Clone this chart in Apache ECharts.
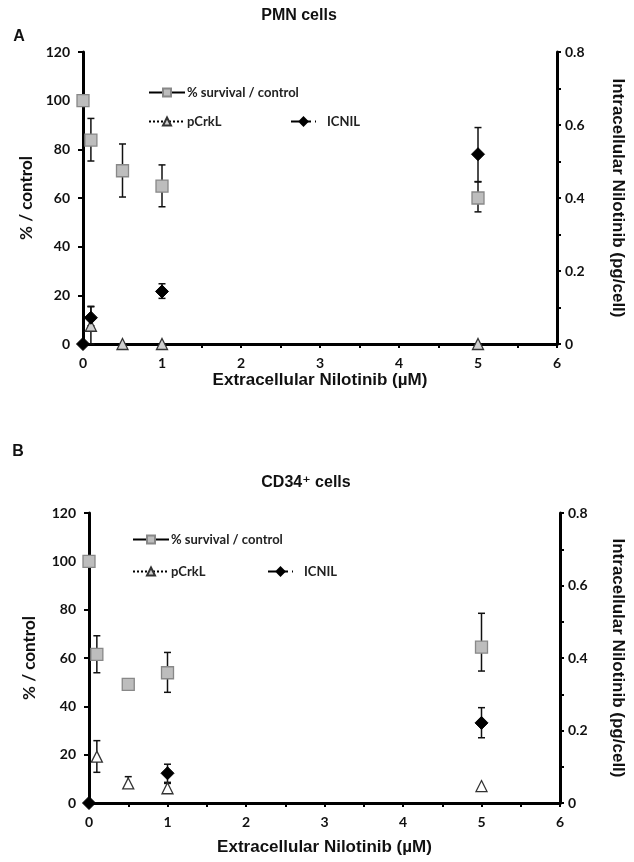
<!DOCTYPE html>
<html>
<head>
<meta charset="utf-8">
<script src="https://cdn.jsdelivr.net/npm/echarts@6/dist/echarts.min.js"></script>
<style>
  html, body { margin: 0; padding: 0; background: #fff; }
  #chart { width: 634px; height: 862px; }
</style>
</head>
<body>
<div id="chart"></div>
<script>
// ---- Panel A : PMN cells ----
const pmnSurvX = [0, 0.1, 0.5, 1, 5];
const pmnSurv = [100, 83.8, 71.2, 64.9, 60];
const pmnSurvLow = [null, 75.2, 60.4, 56.4, 54.3];
const pmnSurvHigh = [null, 92.7, 82.2, 73.6, 66.6];

const pmnCrklX = [0.1, 0.5, 1, 5];
const pmnCrkl = [7.5, 0, 0, 0];
const pmnCrklLow = [0, null, null, null];
const pmnCrklHigh = [15.5, null, null, null];

const pmnIcnilX = [0, 0.1, 1, 5];
const pmnIcnil = [0, 0.072, 0.144, 0.52];
const pmnIcnilLow = [null, 0.05, 0.125, 0.445];
const pmnIcnilHigh = [null, 0.102, 0.165, 0.593];

// ---- Panel B : CD34+ cells ----
const cdSurvX = [0, 0.1, 0.5, 1, 5];
const cdSurv = [100, 61.5, 49.1, 53.9, 64.5];
const cdSurvLow = [null, 53.9, null, 45.8, 54.6];
const cdSurvHigh = [null, 69.2, null, 62.3, 78.5];

const cdCrklX = [0.1, 0.5, 1, 5];
const cdCrkl = [19.2, 8.1, 6.1, 7];
const cdCrklLow = [12.7, 6.5, 4.5, null];
const cdCrklHigh = [25.8, 10.9, 8.1, null];

const cdIcnilX = [0, 1, 5];
const cdIcnil = [0, 0.082, 0.221];
const cdIcnilLow = [null, 0.057, 0.18];
const cdIcnilHigh = [null, 0.107, 0.263];

const SURV = '% survival / control';
const CRKL = 'pCrkL';
const ICNIL = 'ICNIL';

const zip = (xs, ys) => xs.map((x, i) => [x, ys[i]]);
const errData = (xs, lo, hi) =>
  xs.map((x, i) => [x, lo[i], hi[i]]).filter(d => d[1] != null);

function errRender(params, api) {
  const x = api.value(0);
  const lo = api.coord([x, api.value(1)]);
  const hi = api.coord([x, api.value(2)]);
  const c = 3.5;
  const style = { stroke: '#111', lineWidth: 1.5 };
  return {
    type: 'group',
    children: [
      { type: 'line', shape: { x1: lo[0], y1: lo[1], x2: hi[0], y2: hi[1] }, style },
      { type: 'line', shape: { x1: hi[0] - c, y1: hi[1], x2: hi[0] + c, y2: hi[1] }, style },
      { type: 'line', shape: { x1: lo[0] - c, y1: lo[1], x2: lo[0] + c, y2: lo[1] }, style }
    ]
  };
}

const tickFont = { fontFamily: 'Lato', fontWeight: 'bold', fontSize: 14, color: '#111' };
const nameFont = { fontFamily: 'Liberation Sans', fontWeight: 'bold', fontSize: 17, color: '#111' };
const axisLine = { show: true, lineStyle: { color: '#000', width: 3 } };
const tickStyle = { color: '#000', width: 2 };

function xAx(gi, gap) {
  return {
    type: 'value', gridIndex: gi, min: 0, max: 6, interval: 1,
    name: 'Extracellular Nilotinib (µM)', nameLocation: 'middle', nameGap: gap,
    nameTextStyle: nameFont,
    axisLine, splitLine: { show: false },
    axisTick: { show: true, length: 4, lineStyle: tickStyle },
    minorTick: { show: true, splitNumber: 2, length: 4, lineStyle: tickStyle },
    axisLabel: Object.assign({ margin: 12 }, tickFont)
  };
}
function yLeft(gi, gap) {
  return {
    type: 'value', gridIndex: gi, min: 0, max: 120, interval: 20, position: 'left',
    name: '% / control', nameLocation: 'middle', nameGap: gap,
    nameTextStyle: Object.assign({}, nameFont, { fontFamily: 'Lato', fontSize: 17 }),
    axisLine, splitLine: { show: false },
    axisTick: { show: true, length: 5, lineStyle: tickStyle },
    axisLabel: Object.assign({ margin: 13 }, tickFont)
  };
}
function yRight(gi, gap) {
  return {
    type: 'value', gridIndex: gi, min: 0, max: 0.8, interval: 0.2, position: 'right',
    name: 'Intracellular Nilotinib (pg/cell)', nameLocation: 'middle', nameGap: gap,
    nameRotate: -90, nameTextStyle: nameFont,
    axisLine, splitLine: { show: false },
    axisTick: { show: true, length: 4, lineStyle: tickStyle },
    minorTick: { show: true, splitNumber: 2, length: 4, lineStyle: tickStyle },
    axisLabel: Object.assign({ margin: 8, formatter: v => (v === 0 ? '0' : String(+v.toFixed(1))) }, tickFont)
  };
}

function panelSeries(gi, d) {
  const xi = gi, yl = gi * 2, yr = gi * 2 + 1;
  return [
    { type: 'custom', xAxisIndex: xi, yAxisIndex: yl, renderItem: errRender, data: errData(d.survX, d.survLow, d.survHigh), z: 1, silent: true },
    { type: 'custom', xAxisIndex: xi, yAxisIndex: yl, renderItem: errRender, data: errData(d.crklX, d.crklLow, d.crklHigh), z: 1, silent: true },
    { type: 'custom', xAxisIndex: xi, yAxisIndex: yr, renderItem: errRender, data: errData(d.icnilX, d.icnilLow, d.icnilHigh), z: 1, silent: true },
    {
      name: CRKL, type: 'line', xAxisIndex: xi, yAxisIndex: yl, data: zip(d.crklX, d.crkl),
      symbol: 'triangle', symbolSize: 11, clip: false, z: 3,
      lineStyle: { type: 'dotted', opacity: 0 },
      itemStyle: { color: d.triFill, borderColor: '#333', borderWidth: 1.3 }
    },
    {
      name: ICNIL, type: 'line', xAxisIndex: xi, yAxisIndex: yr, data: zip(d.icnilX, d.icnil),
      symbol: 'diamond', symbolSize: 13, clip: false, z: 4,
      lineStyle: { type: 'dashed', opacity: 0 },
      itemStyle: { color: '#000', borderColor: '#000', borderWidth: 1 }
    },
    {
      name: SURV, type: 'line', xAxisIndex: xi, yAxisIndex: yl, data: zip(d.survX, d.surv),
      symbol: 'rect', symbolSize: 12, clip: false, z: 5,
      lineStyle: { opacity: 0 },
      itemStyle: { color: '#bdbdbd', borderColor: '#888', borderWidth: 1.3 }
    }
  ];
}

function legend(name, left, top, w, type, pad) {
  return {
    data: [name], left, top, itemWidth: w, itemHeight: 10, selectedMode: false,
    textStyle: { fontFamily: 'Lato', fontWeight: 'bold', fontSize: 13, color: '#222', padding: [0, 0, 0, pad] },
    lineStyle: { color: '#000', width: 2, opacity: 1, type }
  };
}

const chart = echarts.init(document.getElementById('chart'), null, { renderer: 'canvas' });
chart.setOption({
  backgroundColor: '#fff',
  animation: false,
  grid: [
    { left: 83, right: 73, top: 52, height: 292 },
    { left: 89, right: 66, top: 513, height: 290 }
  ],
  xAxis: [xAx(0, 28), xAx(1, 36)],
  yAxis: [yLeft(0, 45), yRight(0, 52), yLeft(1, 51), yRight(1, 49)],
  legend: [
    legend(SURV, 143, 81, 36, 'solid', -3),
    legend(CRKL, 143, 110, 36, 'dotted', -3),
    legend(ICNIL, 285, 110, 25, 'dashed', 6),
    legend(SURV, 127, 528, 36, 'solid', -3),
    legend(CRKL, 127, 560, 36, 'dotted', -3),
    legend(ICNIL, 262, 560, 25, 'dashed', 6)
  ],
  graphic: [
    { type: 'text', x: 19, y: 37, style: { text: 'A', font: 'bold 16px "Liberation Sans"', fill: '#111', align: 'center', verticalAlign: 'middle' } },
    { type: 'text', x: 299, y: 16, style: { text: 'PMN cells', font: 'bold 16px "Liberation Sans"', fill: '#111', align: 'center', verticalAlign: 'middle' } },
    { type: 'text', x: 18, y: 452, style: { text: 'B', font: 'bold 16px "Liberation Sans"', fill: '#111', align: 'center', verticalAlign: 'middle' } },
    { type: 'text', x: 306, y: 483, style: { text: 'CD34⁺ cells', font: 'bold 16px "Liberation Sans", "DejaVu Sans"', fill: '#111', align: 'center', verticalAlign: 'middle' } }
  ],
  series: [
    ...panelSeries(0, {
      survX: pmnSurvX, surv: pmnSurv, survLow: pmnSurvLow, survHigh: pmnSurvHigh,
      crklX: pmnCrklX, crkl: pmnCrkl, crklLow: pmnCrklLow, crklHigh: pmnCrklHigh,
      icnilX: pmnIcnilX, icnil: pmnIcnil, icnilLow: pmnIcnilLow, icnilHigh: pmnIcnilHigh,
      triFill: '#d0d0d0'
    }),
    ...panelSeries(1, {
      survX: cdSurvX, surv: cdSurv, survLow: cdSurvLow, survHigh: cdSurvHigh,
      crklX: cdCrklX, crkl: cdCrkl, crklLow: cdCrklLow, crklHigh: cdCrklHigh,
      icnilX: cdIcnilX, icnil: cdIcnil, icnilLow: cdIcnilLow, icnilHigh: cdIcnilHigh,
      triFill: '#ffffff'
    })
  ]
});
</script>
</body>
</html>
